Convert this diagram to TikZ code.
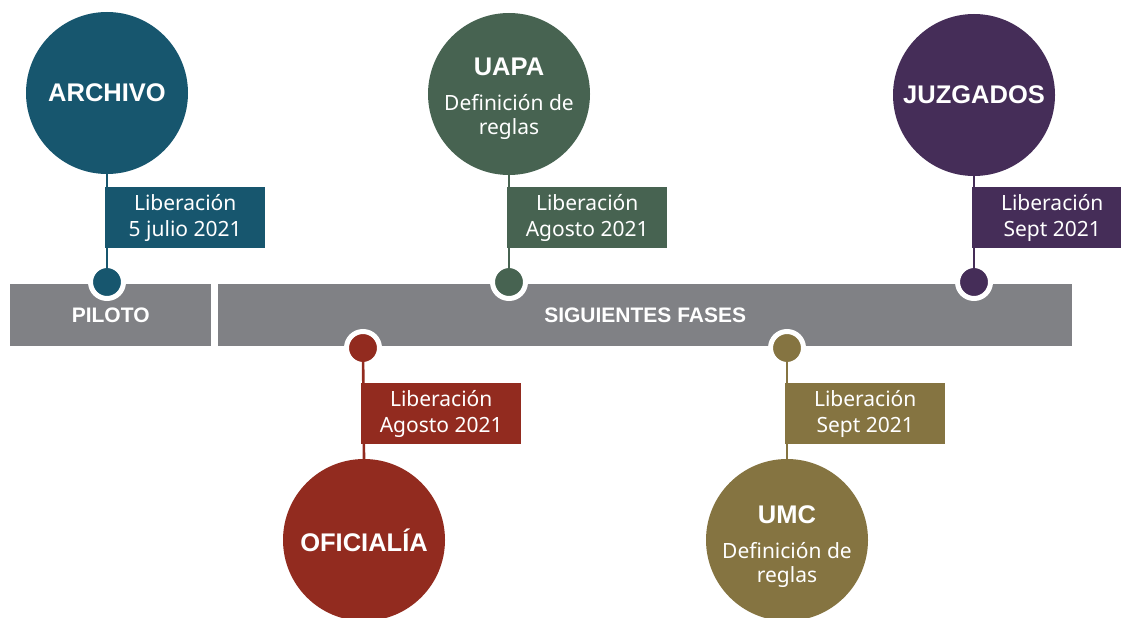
\documentclass[tikz,border=0pt]{standalone}
\usepackage{fontspec}
\setmainfont{Noto Sans}
\newfontfamily\ttlfam{Liberation Sans}
\definecolor{cArch}{HTML}{17566E}
\definecolor{cUapa}{HTML}{476351}
\definecolor{cOfi}{HTML}{922B1F}
\definecolor{cUmc}{HTML}{857441}
\definecolor{cJuz}{HTML}{452D58}
\definecolor{cBar}{HTML}{808185}
\tikzset{
  bigcirc/.style={circle, minimum size=162pt, inner sep=0pt, text=white, align=center,
    font=\fontsize{21}{24}\selectfont},
  relbox/.style={minimum width=160pt, minimum height=61pt, inner sep=0pt, text=white,
    align=center, font=\fontsize{21}{26}\selectfont, anchor=north west},
  dotnode/.style={circle, minimum size=33pt, inner sep=0pt, draw=white, line width=5pt},
  barbox/.style={fill=cBar, inner sep=0pt, text=white, minimum height=62pt,
    anchor=north west, font=\ttlfam\bfseries\fontsize{21}{24}\selectfont},
  stemline/.style={line width=2.6pt}
}
\newcommand{\ttlfont}{\ttlfam\bfseries\fontsize{25.5}{28}\selectfont}
\begin{document}
\begin{tikzpicture}[x=1pt,y=-1pt]
\useasboundingbox (0,0) rectangle (1121,618);
\clip (0,0) rectangle (1121,618);
% bars
\node[barbox, minimum width=201pt] (piloto) at (10,284) {PILOTO};
\node[barbox, minimum width=854pt] (sig) at (218,284) {SIGUIENTES FASES};
% dots
\node[dotnode, fill=cArch] (darch) at (107,282) {};
\node[dotnode, fill=cUapa] (duapa) at (509,282) {};
\node[dotnode, fill=cJuz] (djuz) at (974,282) {};
\node[dotnode, fill=cOfi] (dofi) at (363,348) {};
\node[dotnode, fill=cUmc] (dumc) at (787,348) {};
% circles
\node[bigcirc, fill=cArch] (arch) at (107,93) {{\ttlfont ARCHIVO}};
\node[bigcirc, fill=cUapa] (uapa) at (509,94) {{\ttlfont\rule{0pt}{28pt}UAPA}\\[11pt]Definición de\\reglas};
\node[bigcirc, fill=cJuz] (juz) at (974,95) {{\ttlfont JUZGADOS}};
\node[bigcirc, fill=cOfi] (ofi) at (364,540) {{\ttlfont OFICIALÍA}};
\node[bigcirc, fill=cUmc] (umc) at (787,540) {{\ttlfont\rule{0pt}{31pt}UMC}\\[11pt]Definición de\\reglas};
% stems
\draw[stemline, cArch] (arch.south) -- (darch.center);
\draw[stemline, cUapa] (uapa.south) -- (duapa.center);
\draw[stemline, cJuz] (juz.south) -- (djuz.center);
\draw[stemline, cOfi] (dofi.center) -- (ofi.north);
\draw[stemline, cUmc] (dumc.center) -- (umc.north);
% release boxes
\node[relbox, fill=cArch] (rarch) at (105,187) {Liberación\\5 julio 2021};
\node[relbox, fill=cUapa] (ruapa) at (507,187) {Liberación\\Agosto 2021};
\node[relbox, fill=cJuz] (rjuz) at (972,187) {Liberación\\Sept 2021};
\node[relbox, fill=cOfi] (rofi) at (361,383) {Liberación\\Agosto 2021};
\node[relbox, fill=cUmc] (rumc) at (785,383) {Liberación\\Sept 2021};
\end{tikzpicture}
\end{document}
